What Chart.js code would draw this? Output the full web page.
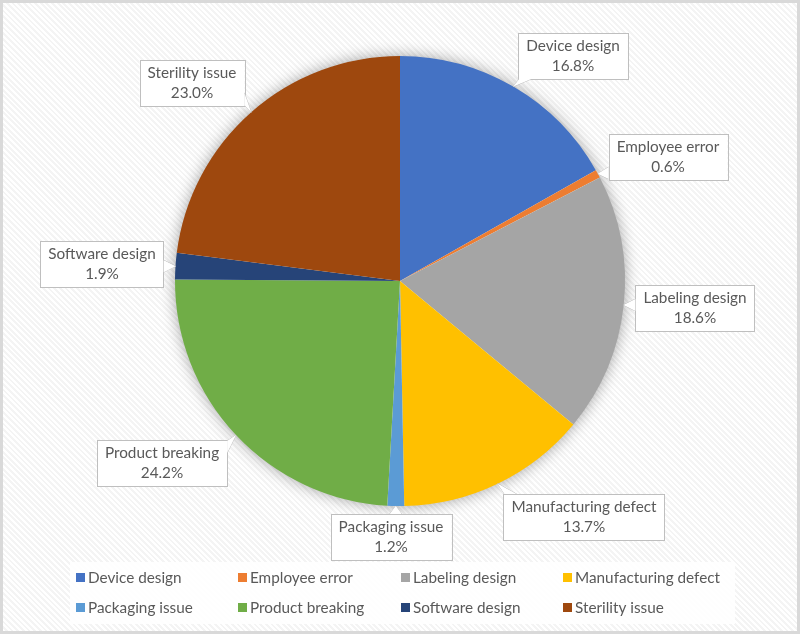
<!DOCTYPE html>
<html lang="en">
<head>
    <meta charset="UTF-8">
    <title>Causes</title>
    <script src="https://cdn.jsdelivr.net/npm/chart.js@4.4.0/dist/chart.umd.min.js"></script>
</head>
<style>
    body { margin: 0; }
    #wrap {
        position: relative; width: 800px; height: 634px;
        background: repeating-linear-gradient(45deg, #ffffff 0px, #ffffff 2px, #f4f4f4 2px, #f4f4f4 4px);
    }
    #wrap canvas { position: absolute; left: 0; top: 0; }
    #frame {
        position: absolute; left: 0; top: 0; width: 800px; height: 634px;
        box-sizing: border-box; border: 3px solid #d9d9d9; pointer-events: none;
    }
</style>
<body>
<div id="wrap">
    <canvas id="pieCanvas" width="800" height="634"></canvas>
    <div id="frame"></div>
</div>
<script>
    const categories = ['Device design', 'Employee error', 'Labeling design', 'Manufacturing defect',
                        'Packaging issue', 'Product breaking', 'Software design', 'Sterility issue'];
    const shares = [16.8, 0.6, 18.6, 13.7, 1.2, 24.2, 1.9, 23.0];
    const colors = ['#4472C4', '#ED7D31', '#A5A5A5', '#FFC000', '#5B9BD5', '#70AD47', '#264478', '#9E480E'];

    const FONT = '15.3px Lato';
    const TEXT = '#595959';

    // where each callout box sits (centre), same order as categories
    const calloutBoxes = [[573, 56], [668, 157], [695, 308], [584, 517],
                          [391, 537], [162, 463], [102, 264], [192, 83]];

    const pieShadow = {
        id: 'pieShadow',
        beforeDatasetsDraw(chart) {
            const arc = chart.getDatasetMeta(0).data[0];
            if (!arc) return;
            const c = chart.ctx;
            c.save();
            c.shadowColor = 'rgba(0,0,0,0.4)';
            c.shadowBlur = 16;
            c.fillStyle = '#ffffff';
            c.beginPath();
            c.arc(arc.x, arc.y, arc.outerRadius - 1, 0, Math.PI * 2);
            c.fill();
            c.restore();
        }
    };

    const callouts = {
        id: 'callouts',
        afterDatasetsDraw(chart) {
            const c = chart.ctx;
            const meta = chart.getDatasetMeta(0);
            c.save();
            c.font = FONT;
            c.textAlign = 'center';
            c.textBaseline = 'middle';
            meta.data.forEach((arc, i) => {
                const label = chart.data.labels[i];
                const pct = chart.data.datasets[0].data[i].toFixed(1) + '%';
                const w = Math.max(c.measureText(label).width, c.measureText(pct).width) + 16;
                const h = 46;
                const [bx, by] = calloutBoxes[i];
                const x0 = bx - w / 2, y0 = by - h / 2, x1 = bx + w / 2, y1 = by + h / 2;
                const mid = (arc.startAngle + arc.endAngle) / 2;
                const ax = arc.x + Math.cos(mid) * arc.outerRadius;
                const ay = arc.y + Math.sin(mid) * arc.outerRadius;

                // wedge base on the nearest box edge
                let tri = null;
                const px = Math.min(Math.max(ax, x0), x1), py = Math.min(Math.max(ay, y0), y1);
                if (Math.hypot(ax - px, ay - py) > 3) {
                    const dxo = ax < x0 ? x0 - ax : (ax > x1 ? ax - x1 : 0);
                    const dyo = ay < y0 ? y0 - ay : (ay > y1 ? ay - y1 : 0);
                    if (dyo >= dxo) {
                        const ey = ay < y0 ? y0 : y1;
                        let s = Math.min(Math.max(px - 6, x0 + 1), x1 - 13);
                        tri = [[s, ey], [s + 12, ey]];
                    } else {
                        const ex = ax < x0 ? x0 : x1;
                        let s = Math.min(Math.max(py - 6, y0 + 1), y1 - 13);
                        tri = [[ex, s], [ex, s + 12]];
                    }
                }
                c.lineWidth = 1;
                c.strokeStyle = '#bfbfbf';
                c.fillStyle = '#ffffff';
                if (tri) {
                    c.beginPath();
                    c.moveTo(tri[0][0], tri[0][1]);
                    c.lineTo(ax, ay);
                    c.lineTo(tri[1][0], tri[1][1]);
                    c.closePath();
                    c.fill();
                    c.stroke();
                }
                c.fillRect(x0, y0, w, h);
                c.strokeRect(Math.round(x0) + 0.5, Math.round(y0) + 0.5, Math.round(w), Math.round(h));
                if (tri) {
                    c.beginPath();
                    c.moveTo(tri[0][0], tri[0][1]);
                    c.lineTo(ax, ay);
                    c.lineTo(tri[1][0], tri[1][1]);
                    c.closePath();
                    c.fill();
                }
                c.fillStyle = TEXT;
                c.fillText(label, bx, by - 10);
                c.fillText(pct, bx, by + 10);
            });
            c.restore();
        }
    };

    const gridLegend = {
        id: 'gridLegend',
        afterDraw(chart) {
            const c = chart.ctx;
            const cols = [76, 238, 401, 563];
            const rows = [578, 608];
            c.save();
            c.fillStyle = 'rgba(255,255,255,0.85)';
            c.fillRect(70, 562, 665, 62);
            c.font = FONT;
            c.textBaseline = 'middle';
            c.textAlign = 'left';
            chart.data.labels.forEach((lab, i) => {
                const x = cols[i % 4], y = rows[Math.floor(i / 4)];
                c.fillStyle = chart.data.datasets[0].backgroundColor[i];
                c.fillRect(x, y - 5, 9, 9);
                c.fillStyle = TEXT;
                c.fillText(lab, x + 12, y);
            });
            c.restore();
        }
    };

    const ctx = document.getElementById('pieCanvas').getContext('2d');
    const pieChart = new Chart(ctx, {
        type: 'pie',
        data: {
            labels: categories,
            datasets: [{
                data: shares,
                backgroundColor: colors,
                borderWidth: 0
            }]
        },
        options: {
            responsive: false,
            animation: false,
            layout: { padding: { top: 56, bottom: 128, left: 100, right: 100 } },
            plugins: {
                legend: { display: false },
                tooltip: { enabled: false }
            }
        },
        plugins: [pieShadow, callouts, gridLegend]
    });
</script>
</body>
</html>
